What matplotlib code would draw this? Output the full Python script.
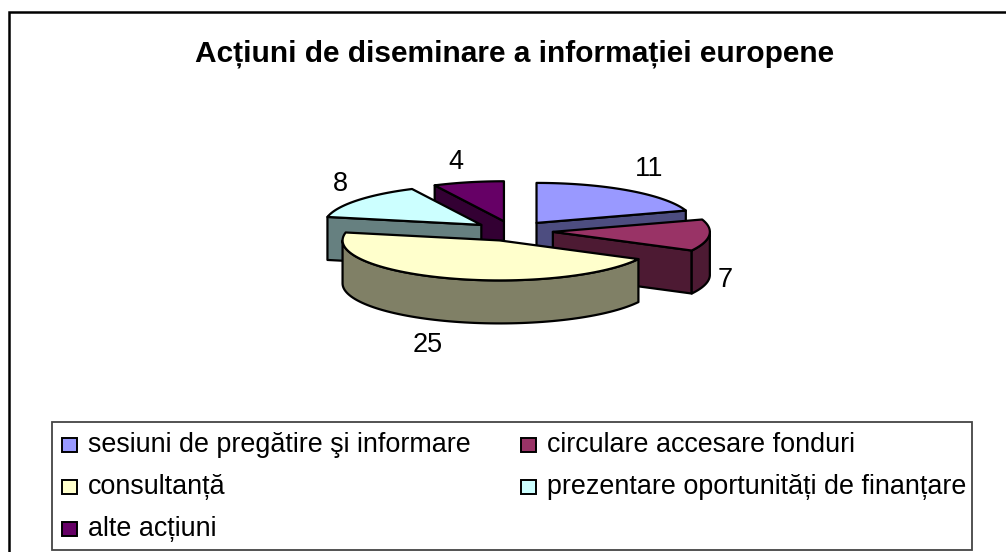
import numpy as np
import matplotlib
matplotlib.use("Agg")
import matplotlib.pyplot as plt
from matplotlib.patches import Polygon, Rectangle

plt.rcParams['font.family'] = ['Liberation Sans', 'DejaVu Sans']

title = "Acțiuni de diseminare a informației europene"
labels = ["sesiuni de pregătire şi informare", "circulare accesare fonduri", "consultanță",
          "prezentare oportunități de finanțare", "alte acțiuni"]
values = [11, 7, 25, 8, 4]
colors = ["#9999FF", "#993366", "#FFFFCC", "#CCFFFF", "#660066"]
side_colors = ["#4D4D80", "#4D1A33", "#808066", "#668080", "#330033"]

# pie geometry, in pixels of the picture
cx, cy = 513, 231
rx, ry = 157, 40
depth = 43
explode = 40
explode_y = 10

def pt(ox, oy, a, r=1.0):
    return ox + r * rx * np.sin(a), oy - r * ry * np.cos(a)

fig = plt.figure(figsize=(10.06, 5.52), dpi=100)
ax = fig.add_axes([0, 0, 1, 1])
ax.set_xlim(0, 1006)
ax.set_ylim(552, 0)
ax.axis("off")

# outer frame, runs off the picture at the bottom
ax.add_patch(Rectangle((9.5, 11.5), 1100, 600, fc="white", ec="black", lw=1.8))

total = sum(values)
edges = np.radians(np.cumsum([0] + values) / total * 360)

def draw_slice(i):
    a0, a1 = edges[i], edges[i + 1]
    mid = (a0 + a1) / 2
    ox = cx + explode * np.sin(mid)
    oy = cy - explode_y * np.cos(mid)
    side = dict(fc=side_colors[i], ec="black", lw=1.6, joinstyle="round")
    # flat cut faces, only the ones turned to the viewer
    for a, turn in ((a0, -np.pi / 2), (a1, np.pi / 2)):
        if np.cos(a + turn) < -1e-6:
            x, y = pt(ox, oy, a)
            ax.add_patch(Polygon([(ox, oy), (x, y), (x, y + depth), (ox, oy + depth)], **side))
    # outer wall, front half of the ellipse only
    lo, hi = max(a0, np.pi / 2), min(a1, 3 * np.pi / 2)
    if lo < hi:
        t = np.linspace(lo, hi, 80)
        xs, ys = pt(ox, oy, t)
        wall = list(zip(xs, ys)) + list(zip(xs[::-1], ys[::-1] + depth))
        ax.add_patch(Polygon(wall, **side))
    t = np.linspace(a0, a1, 80)
    xs, ys = pt(ox, oy, t)
    ax.add_patch(Polygon([(ox, oy)] + list(zip(xs, ys)), fc=colors[i], ec="black", lw=1.6, joinstyle="round"))

for i in [4, 3, 0, 1, 2]:
    draw_slice(i)

ax.text(515, 54, title, fontsize=21.5, fontweight="bold", ha="center", va="center")

# value labels
value_pos = [(649, 169), (725, 280), (428, 345), (340, 184), (456, 162)]
for v, (x, y) in zip(values, value_pos):
    ax.text(x, y, str(v), fontsize=19.5, ha="center", va="center")

# legend
ax.add_patch(Rectangle((52.5, 421.5), 920, 128, fc="white", ec="#444444", lw=1.3))
leg_pos = [(62, 445), (521, 445), (62, 487), (521, 487), (62, 529)]
for lab, c, (x, y) in zip(labels, colors, leg_pos):
    ax.add_patch(Rectangle((x, y - 7), 15, 14, fc=c, ec="black", lw=1.4))
    ax.text(x + 26, y, lab, fontsize=19.4, ha="left", va="center")

fig.savefig("out.png", dpi=100)
